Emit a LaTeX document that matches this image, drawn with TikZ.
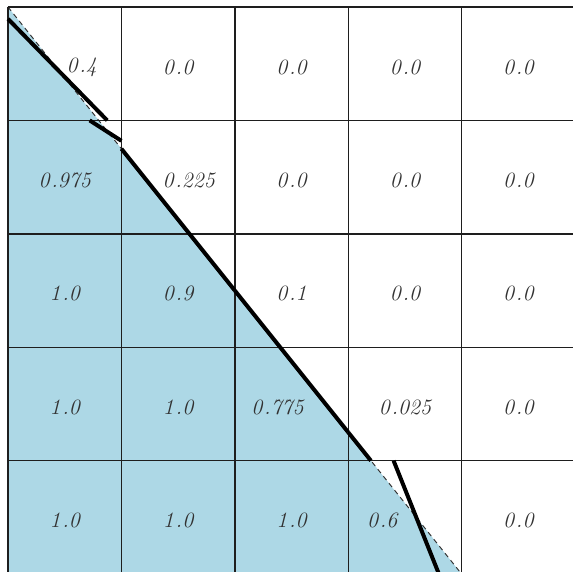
\documentclass[tikz,border=0pt]{standalone}
\usepackage{tikz}
\definecolor{fillblue}{RGB}{173,216,230}
\definecolor{gridcol}{RGB}{30,30,30}
\definecolor{labcol}{RGB}{50,50,50}
\begin{document}
\begin{tikzpicture}[x=2cm,y=-2cm,
  gridline/.style={draw=gridcol,line width=0.7pt},
  interface/.style={draw=black!80,line width=0.5pt,dash pattern=on 2.5pt off 2pt},
  plic/.style={draw=black,line width=2pt},
  lab/.style={text=labcol,font=\fontsize{11}{13}\selectfont\itshape,inner sep=0pt}]
\useasboundingbox (-0.0705,-0.0617) rectangle (4.982,4.974);
\clip (-0.0705,-0.0617) rectangle (4.982,4.974);
% true fluid region
\fill[fillblue] (0,0) -- (4,5) -- (0,5) -- cycle;
\draw[interface] (0,0) -- (4,5);
% grid
\foreach \i in {0,...,5}{
  \draw[gridline] (\i,0) -- (\i,5);
  \draw[gridline] (0,\i) -- (5,\i);
}
% reconstructed interface segments
\coordinate (s1a) at (0,0.105);   \coordinate (s1b) at (0.875,1);
\coordinate (s2a) at (0.72,1);    \coordinate (s2b) at (1,1.18);
\coordinate (s3a) at (1,1.25);    \coordinate (s3b) at (1.6,2);
\coordinate (s4a) at (1.6,2);     \coordinate (s4b) at (2,2.5);
\coordinate (s5a) at (2,2.5);     \coordinate (s5b) at (2.4,3);
\coordinate (s6a) at (2.4,3);     \coordinate (s6b) at (3,3.75);
\coordinate (s7a) at (3,3.75);    \coordinate (s7b) at (3.2,4);
\coordinate (s8a) at (3.4,4);     \coordinate (s8b) at (3.8,5);
\foreach \k in {1,...,8}{\draw[plic] (s\k a) -- (s\k b);}
% volume fractions
\foreach \r/\c/\a/\b/\dx in {
  0/0/0/4/0.15, 0/1/0/0/0, 0/2/0/0/0, 0/3/0/0/0, 0/4/0/0/0,
  1/0/0/975/0, 1/1/0/225/0.093, 1/2/0/0/0, 1/3/0/0/0, 1/4/0/0/0,
  2/0/1/0/0, 2/1/0/9/0, 2/2/0/1/0, 2/3/0/0/0, 2/4/0/0/0,
  3/0/1/0/0, 3/1/1/0/0, 3/2/0/775/-0.123, 3/3/0/025/0, 3/4/0/0/0,
  4/0/1/0/0, 4/1/1/0/0, 4/2/1/0/0, 4/3/0/6/-0.2, 4/4/0/0/0}{
  \node[lab] (v\r\c) at (\c+0.5+\dx,\r+0.53) {\a\kern0.9pt.\b};
}
\end{tikzpicture}
\end{document}
